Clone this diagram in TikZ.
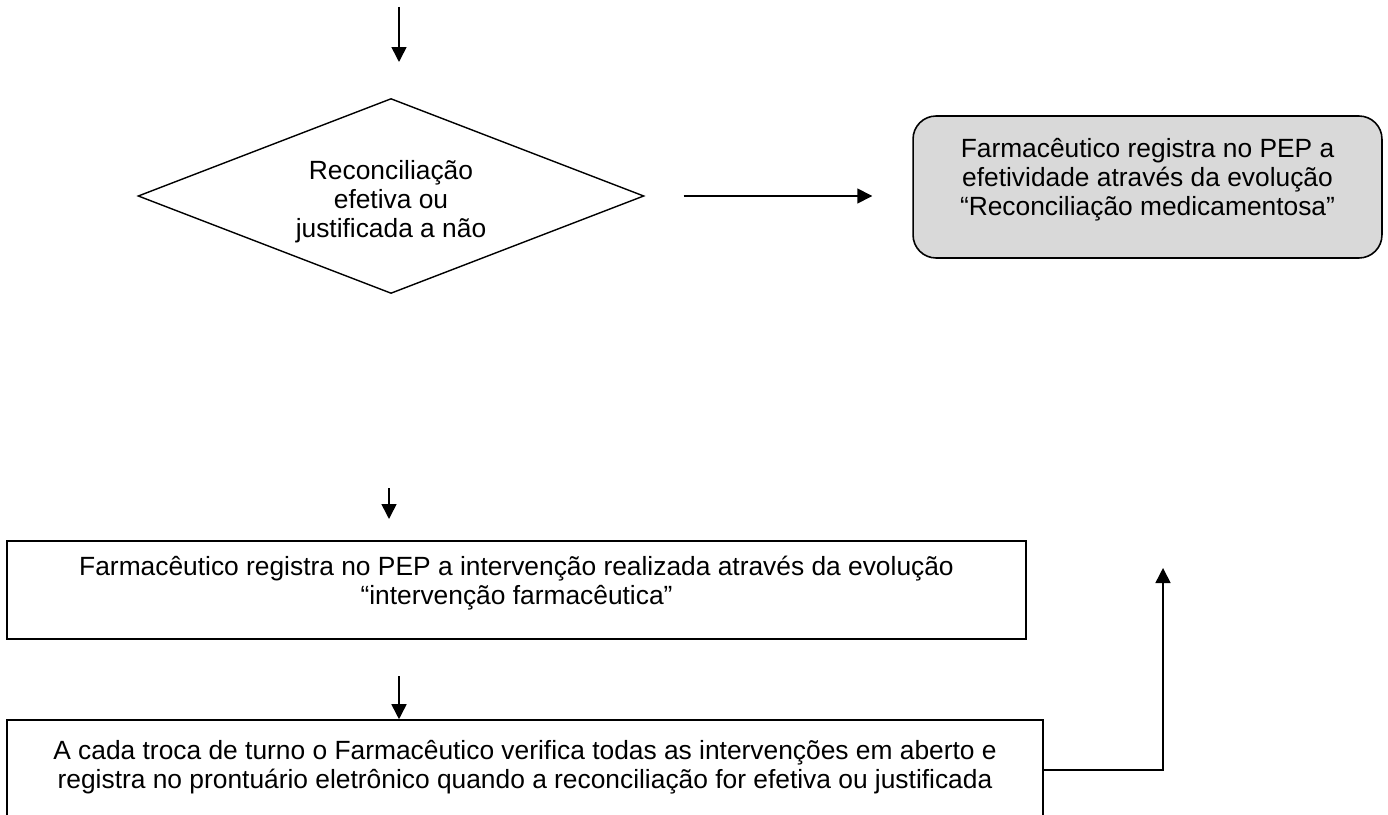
\documentclass[tikz,border=0pt]{standalone}
\usepackage{fontspec}
\setmainfont{Liberation Sans}
\usetikzlibrary{shapes.geometric,arrows.meta}
\begin{document}
\begin{tikzpicture}[x=0.02cm, y=-0.02cm, line width=0.9pt,
        flow/.style={-{Triangle[width=0.3cm,length=0.3cm]}},
        txt/.style={align=center, font=\fontsize{15}{16.6}\selectfont, inner sep=0pt},
        decision/.style={draw, diamond, minimum width=10.12cm, minimum height=3.9cm, line width=0.8pt},
        plainbox/.style={draw, rectangle},
        greybox/.style={draw, rectangle, rounded corners=0.46cm, fill=boxgrey}]
        \definecolor{boxgrey}{HTML}{D9D9D9}
        \useasboundingbox (0,0) rectangle (1388,814);
        % decision
        \coordinate (start) at (399,7);
        \coordinate (startend) at (399,62);
        \draw[flow] (start) -- (startend);
        \node[decision] (rec) at (391,196) {};
        \node[txt] (rectxt) at (391,202) {Reconciliação\\efetiva ou\\justificada a não};
        \node[greybox, minimum width=9.38cm, minimum height=2.84cm] (efet) at (1147.5,187) {};
        \node[txt] (efettxt) at (1147.5,180) {Farmacêutico registra no PEP a\\efetividade através da evolução\\“Reconciliação medicamentosa”};
        \coordinate (efetin) at ([xshift=-0.8cm]efet.west);
        \draw[flow] ([xshift=0.78cm]rec.east) -- (efetin |- rec.east);
        % interventions
        \coordinate (a1) at (389,488);
        \coordinate (a1end) at (389,519);
        \draw[flow] (a1) -- (a1end);
        \node[plainbox, minimum width=20.38cm, minimum height=1.96cm] (interv) at (516.5,590) {};
        \node[txt] (intervtxt) at (516.5,583) {Farmacêutico registra no PEP a intervenção realizada através da evolução\\“intervenção farmacêutica”};
        \coordinate (a2) at (399,676);
        \node[plainbox, minimum width=20.72cm, minimum height=2cm] (turno) at (525,770) {};
        \node[txt] (turnotxt) at (525,767) {A cada troca de turno o Farmacêutico verifica todas as intervenções em aberto e\\registra no prontuário eletrônico quando a reconciliação for efetiva ou justificada};
        \draw[flow] (a2) -- (a2 |- turno.north);
        \coordinate (back) at (1163,568);
        \draw[flow] (turno.east) -| (back);
\end{tikzpicture}
\end{document}
